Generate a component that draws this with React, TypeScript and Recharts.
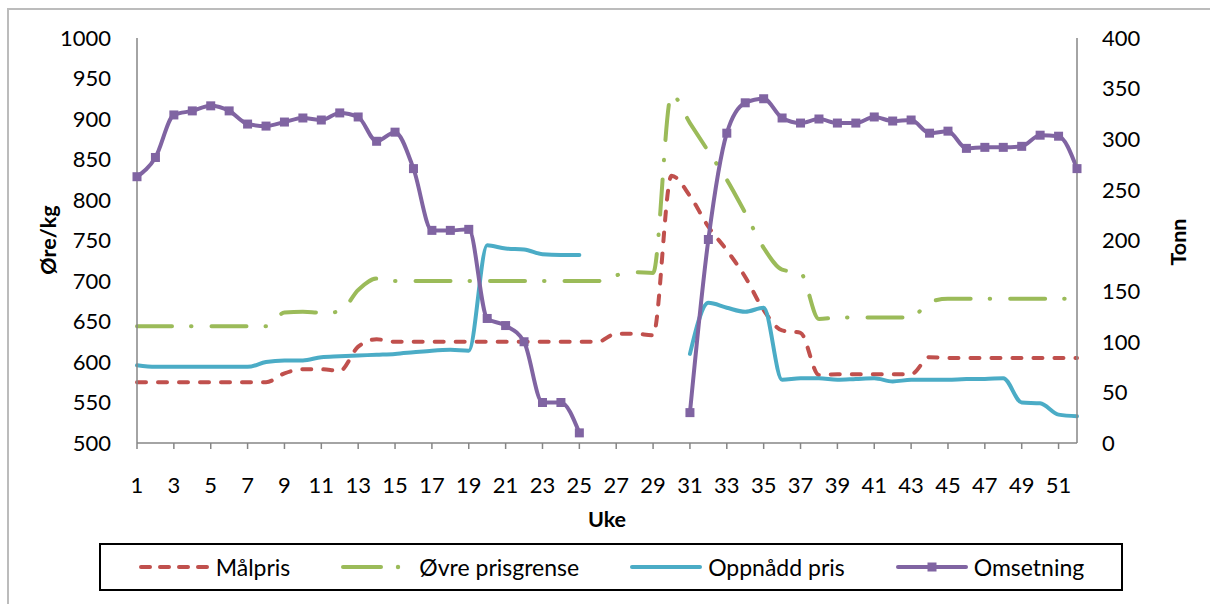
import { ComposedChart, Line, XAxis, YAxis, Legend } from "recharts";

const FONT = "Lato, 'Open Sans', sans-serif";

const weeks = Array.from({ length: 52 }, (_, i) => i + 1);
const weekTicks = weeks.filter((w) => w % 2 === 1);
const priceTicks = [500, 550, 600, 650, 700, 750, 800, 850, 900, 950, 1000];
const tonnTicks = [0, 50, 100, 150, 200, 250, 300, 350, 400];
const legendOrder = ["malpris", "ovre", "oppnadd", "omsetning"];

// Øre/kg
const malpris = [
  575, 575, 575, 575, 575, 575, 575, 575, 586, 591, 591, 589, 619, 628, 625, 625, 625, 625, 625, 625,
  625, 625, 625, 625, 625, 625, 635, 635, 633, 830, 805, 767, 738, 705, 664, 639, 636, 584, 585, 585,
  585, 585, 585, 606, 605, 605, 605, 605, 605, 605, 605, 605,
];
const ovrePrisgrense = [
  644, 644, 644, 644, 644, 644, 644, 644, 661, 662, 661, 662, 689, 703, 700, 700, 700, 700, 700, 700,
  700, 700, 700, 700, 700, 700, 707, 711, 710, 930, 895, 860, 825, 784, 741, 714, 710, 653, 655, 655,
  655, 655, 655, 674, 678, 678, 678, 678, 678, 678, 678, 678,
];
const oppnaddPris = [
  596, 594, 594, 594, 594, 594, 594, 600, 602, 602, 606, 607, 608, 609, 610, 612, 614, 615, 614, 744,
  740, 739, 733, 732, 732, null, null, null, null, null, 610, 673, 667, 662, 667, 578, 580, 580, 578, 579,
  580, 576, 578, 578, 578, 579, 579, 580, 550, 549, 535, 533,
];
// Tonn
const omsetning = [
  263, 282, 324, 328, 333, 328, 315, 313, 317, 321, 319, 326, 322, 298, 307, 271, 210, 210, 211, 123,
  116, 100, 40, 40, 10, null, null, null, null, null, 30, 201, 306, 336, 340, 321, 316, 320, 316, 316,
  322, 318, 319, 306, 308, 291, 292, 292, 293, 304, 303, 271,
];

const data = weeks.map((week, i) => ({
  week,
  malpris: malpris[i],
  ovre: ovrePrisgrense[i],
  oppnadd: oppnaddPris[i],
  omsetning: omsetning[i],
}));

const RED = "#C0504D";
const GREEN = "#9BBB59";
const CYAN = "#4BACC6";
const PURPLE = "#8064A2";
const AXIS = "#868686";

const tickStyle = { fill: "#000", fontSize: 22, fontFamily: FONT };

const SquareDot = (props: any) => {
  const { cx, cy, index } = props;
  if (cx == null || cy == null || props.value == null) return <g key={`sq-${index}`} />;
  return <rect key={`sq-${index}`} x={cx - 4.5} y={cy - 4.5} width={9} height={9} fill={PURPLE} />;
};

const title = (text: string, dxFn: (vb: any) => number, dyFn: (vb: any) => number, angle = 0) =>
  (props: any) => {
    const vb = props.viewBox || {};
    const x = dxFn(vb);
    const y = dyFn(vb);
    return (
      <text
        x={x}
        y={y}
        transform={angle ? `rotate(${angle} ${x} ${y})` : undefined}
        textAnchor="middle"
        dominantBaseline="central"
        fontFamily={FONT}
        fontSize={21.5}
        fontWeight="bold"
        fill="#000"
      >
        {text}
      </text>
    );
  };

function LegendIcon({ id }: { id: string }) {
  if (id === "malpris")
    return (
      <svg width={72} height={12}>
        <line x1={3} y1={6} x2={70} y2={6} stroke={RED} strokeWidth={4} strokeDasharray="9 10" strokeLinecap="round" />
      </svg>
    );
  if (id === "ovre")
    return (
      <svg width={72} height={12}>
        <line x1={2} y1={6} x2={40} y2={6} stroke={GREEN} strokeWidth={4} strokeLinecap="round" />
        <circle cx={57} cy={6} r={2.2} fill={GREEN} />
      </svg>
    );
  if (id === "oppnadd")
    return (
      <svg width={72} height={12}>
        <line x1={2} y1={6} x2={70} y2={6} stroke={CYAN} strokeWidth={4} strokeLinecap="round" />
      </svg>
    );
  return (
    <svg width={72} height={12}>
      <line x1={2} y1={6} x2={70} y2={6} stroke={PURPLE} strokeWidth={4} strokeLinecap="round" />
      <rect x={31.5} y={1.5} width={9} height={9} fill={PURPLE} />
    </svg>
  );
}

const LegendContent = (props: any) => {
  const items = [...((props.payload || []) as any[])].sort(
    (a, b) => legendOrder.indexOf(String(a.dataKey)) - legendOrder.indexOf(String(b.dataKey))
  );
  return (
    <div
      style={{
        display: "flex",
        justifyContent: "center",
        alignItems: "center",
        gap: 51,
        height: "100%",
        fontFamily: FONT,
        fontSize: 23,
        color: "#000",
      }}
    >
      {items.map((it) => (
        <div key={String(it.dataKey)} style={{ display: "flex", alignItems: "center", gap: 6 }}>
          <LegendIcon id={String(it.dataKey)} />
          <span>{it.value}</span>
        </div>
      ))}
    </div>
  );
};

export default function App() {
  return (
    <div style={{ position: "absolute", left: 0, top: 0, width: 1210, height: 604, overflow: "hidden", background: "#fff" }}>
      <div
        style={{
          position: "absolute",
          left: 7,
          top: 8,
          width: 1240,
          height: 640,
          border: "2px solid #bcbcbc",
        }}
      />
      <div style={{ position: "absolute", left: 0, top: 0 }}>
        <ComposedChart width={1210} height={604} data={data} margin={{ top: 38, right: 0, bottom: 101, left: 0 }}>
          <XAxis
            dataKey="week"
            type="number"
            domain={[1, 52]}
            ticks={weekTicks}
            interval={0}
            height={60}
            stroke={AXIS}
            strokeWidth={1.5}
            tickSize={6}
            tickMargin={28}
            tick={tickStyle}
            label={{ content: title("Uke", () => 607, (vb) => (vb.y ?? 443) + 76) }}
          />
          <YAxis
            yAxisId="left"
            domain={[500, 1000]}
            ticks={priceTicks}
            interval={0}
            width={137}
            stroke={AXIS}
            strokeWidth={1.5}
            tickLine={false}
            tickSize={6}
            tickMargin={20}
            tick={tickStyle}
            label={{ content: title("Øre/kg", () => 48, () => 240, -90) }}
          />
          <YAxis
            yAxisId="right"
            orientation="right"
            domain={[0, 400]}
            ticks={tonnTicks}
            interval={0}
            width={133}
            stroke={AXIS}
            strokeWidth={1.5}
            tickLine={false}
            tickSize={6}
            tickMargin={19}
            tick={tickStyle}
            label={{ content: title("Tonn", () => 1178, () => 242, -90) }}
          />
          <Legend
            layout="horizontal"
            verticalAlign="middle"
            align="center"
            content={LegendContent}
            wrapperStyle={{
              left: 99,
              top: 543,
              width: 1024,
              height: 48,
              border: "2px solid #000",
              boxSizing: "border-box",
              background: "#fff",
            }}
          />
          <Line
            yAxisId="left"
            type="monotone"
            dataKey="malpris"
            name="Målpris"
            stroke={RED}
            strokeWidth={4}
            strokeDasharray="9 12"
            strokeLinecap="round"
            dot={false}
            isAnimationActive={false}
          />
          <Line
            yAxisId="left"
            type="monotone"
            dataKey="ovre"
            name="Øvre prisgrense"
            stroke={GREEN}
            strokeWidth={4}
            strokeDasharray="35 19 0.5 20"
            strokeLinecap="round"
            dot={false}
            isAnimationActive={false}
          />
          <Line
            yAxisId="left"
            type="monotone"
            dataKey="oppnadd"
            name="Oppnådd pris"
            stroke={CYAN}
            strokeWidth={4}
            strokeLinecap="round"
            dot={false}
            connectNulls={false}
            isAnimationActive={false}
          />
          <Line
            yAxisId="right"
            type="monotone"
            dataKey="omsetning"
            name="Omsetning"
            stroke={PURPLE}
            strokeWidth={4}
            strokeLinecap="round"
            dot={SquareDot}
            activeDot={false}
            connectNulls={false}
            isAnimationActive={false}
          />
        </ComposedChart>
      </div>
    </div>
  );
}
